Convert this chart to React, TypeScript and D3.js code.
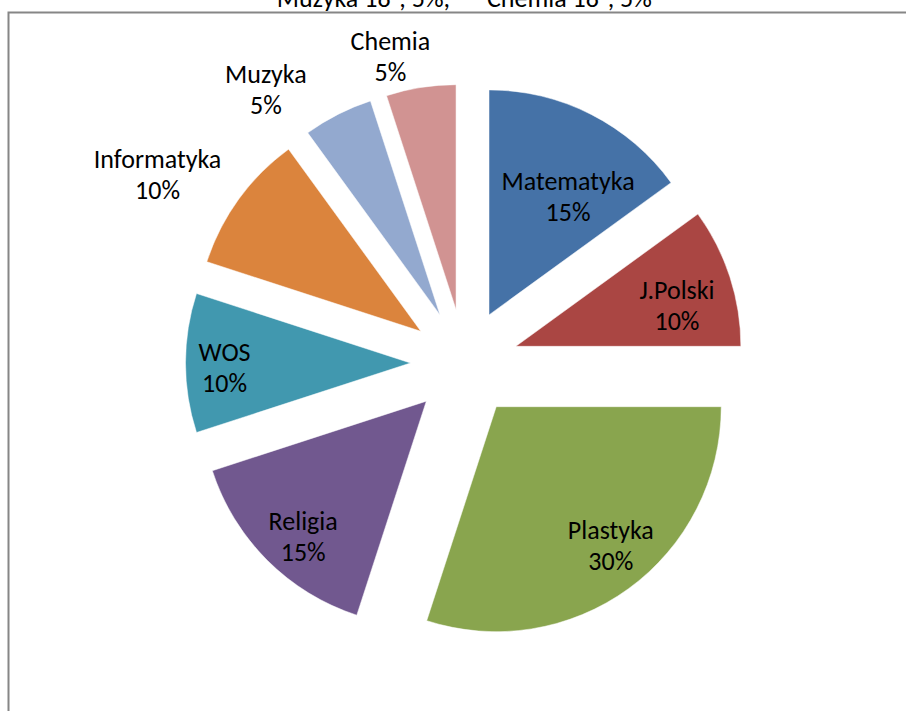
import React from "react";
import * as d3 from "d3";

const categories = ["Matematyka", "J.Polski", "Plastyka", "Religia", "WOS", "Informatyka", "Muzyka", "Chemia"];
const values = [15, 10, 30, 15, 10, 10, 5, 5];
const percentLabels = ["15%", "10%", "30%", "15%", "10%", "10%", "5%", "5%"];
const colors = ["#4572A7", "#AA4643", "#89A54E", "#71588F", "#4198AF", "#DB843D", "#93A9CF", "#D19392"];
const topCaptionLeft = "Muzyka 18°, 5%,";
const topCaptionRight = "Chemia 18°, 5%";

// layout: label polar position (degrees clockwise from top, distance from pie centre)
const labelAngles = [31.9, 75, 141.3, 222.9, 268.8, 301.5, 324, 346.4];
const labelDists = [196, 220, 234, 237, 240, 360, 338, 315];

const W = 906;
const H = 711;
const cx = 464.5;
const cy = 363;
const R = 225;
const explode = 54;
const FONT = "Carlito, Calibri, Lato, sans-serif";
const FS = 26;

export default function App() {
  const pie = d3.pie<number>().sort(null).startAngle(0).endAngle(2 * Math.PI).value((d) => d);
  const arcs = pie(values);
  const arc = d3.arc<d3.PieArcDatum<number>>().innerRadius(0).outerRadius(R);

  return (
    <svg width={W} height={H} style={{ position: "absolute", left: 0, top: 0, background: "#fff" }}>
      <rect x={0} y={0} width={W} height={H} fill="#fff" />
      <path d={`M8.5,${H} L8.5,12.5 L${W},12.5`} fill="none" stroke="#868686" strokeWidth={2} />
      <text x={450} y={7} textAnchor="end" fontFamily={FONT} fontSize={FS} fill="#000">
        {topCaptionLeft}
      </text>
      <text x={487} y={7} textAnchor="start" fontFamily={FONT} fontSize={FS} fill="#000">
        {topCaptionRight}
      </text>
      <g transform={`translate(${cx},${cy})`}>
        {arcs.map((a, i) => {
          const mid = (a.startAngle + a.endAngle) / 2;
          const dx = explode * Math.sin(mid);
          const dy = -explode * Math.cos(mid);
          return (
            <path
              key={categories[i]}
              d={arc(a) || ""}
              transform={`translate(${dx},${dy})`}
              fill={colors[i]}
              stroke="#fff"
              strokeWidth={0.5}
            />
          );
        })}
        {categories.map((c, i) => {
          const ang = (labelAngles[i] * Math.PI) / 180;
          const lx = labelDists[i] * Math.sin(ang);
          const ly = -labelDists[i] * Math.cos(ang);
          return (
            <text key={c} x={lx} y={ly} textAnchor="middle" fontFamily={FONT} fontSize={FS} fill="#000">
              <tspan x={lx} dy={-7}>{c}</tspan>
              <tspan x={lx} dy={31}>{percentLabels[i]}</tspan>
            </text>
          );
        })}
      </g>
    </svg>
  );
}
